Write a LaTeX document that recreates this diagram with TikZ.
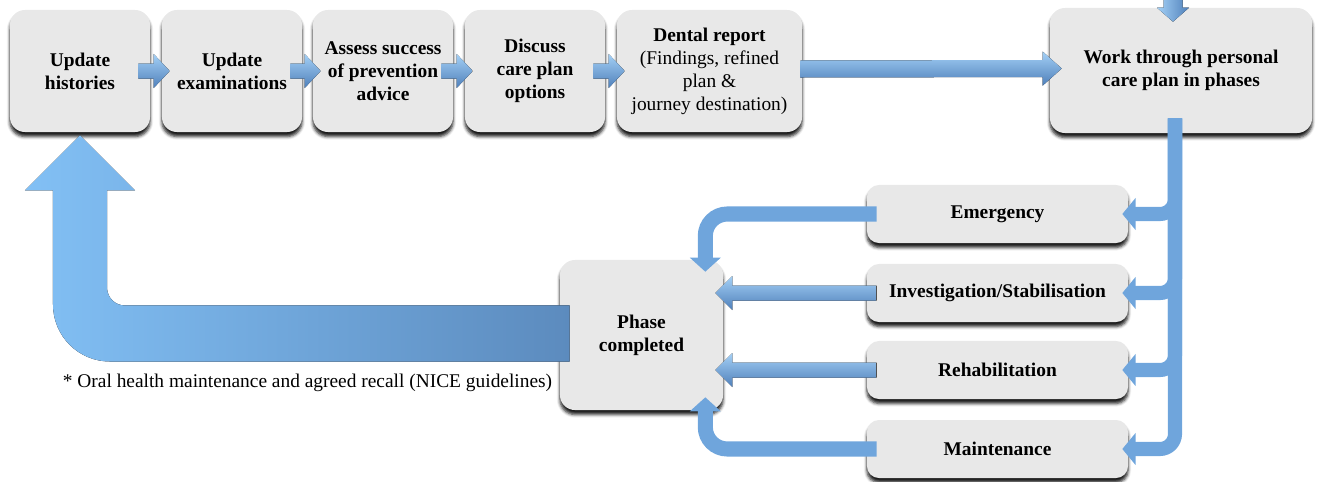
\documentclass[tikz,border=0pt]{standalone}
\usepackage{fontspec}
\setmainfont{LiberationSerif}[Extension=.ttf, UprightFont=*-Regular,
  BoldFont=*-Bold, ItalicFont=*-Italic, BoldItalicFont=*-BoldItalic]
\usetikzlibrary{calc,arrows.meta,shadows.blur}

\definecolor{boxgray}{HTML}{E8E8E8}
\definecolor{arrowlight}{HTML}{A4D0F6}
\definecolor{arrowmid}{HTML}{6FA5DC}
\definecolor{arrowdark}{HTML}{4F80BA}
\definecolor{bigleft}{HTML}{82C0F5}
\definecolor{bigright}{HTML}{5C8BBE}

% one drawing unit in points
\def\pxl{0.71131pt}

% block arrow: [fill options]{tail}{tip}{shaft half width}{head half width}{head length}
\newcommand\blockarrow[6][]{%
  \coordinate (ba-t) at (#2);
  \coordinate (ba-p) at (#3);
  \coordinate (ba-h) at ($(ba-p)!#6*\pxl!(ba-t)$);
  \fill[#1] ($(ba-t)!#4*\pxl!90:(ba-p)$) -- ($(ba-h)!#4*\pxl!90:(ba-p)$)
    -- ($(ba-h)!#5*\pxl!90:(ba-p)$) -- (ba-p)
    -- ($(ba-h)!#5*\pxl!-90:(ba-p)$) -- ($(ba-h)!#4*\pxl!-90:(ba-p)$)
    -- ($(ba-t)!#4*\pxl!-90:(ba-p)$) -- cycle;}

\tikzset{
  basefont/.style={font=\fontsize{13.8}{16.4}\selectfont},
  boxshadow/.style={blur shadow={shadow xshift=0pt, shadow yshift=-3.2pt,
      shadow blur radius=2.2pt, shadow opacity=90}},
  stepbox/.style={font=\fontsize{13.8}{16.4}\selectfont\bfseries,
      fill=boxgray, rounded corners=0.375cm, align=center, inner sep=2pt,
      minimum width=3.5cm, minimum height=3.05cm, boxshadow},
  phasebox/.style={stepbox, minimum width=6.525cm, minimum height=1.45cm,
      rounded corners=0.3cm},
  flowv/.style={top color=arrowlight, bottom color=arrowdark},
  flowh/.style={left color=arrowlight, right color=arrowdark},
  brancharrow/.style={draw=arrowmid, line width=10pt, rounded corners=10.7pt,
      -{Triangle[length=9.5pt, width=22.5pt]}},
  elbowarrow/.style={draw=arrowmid, line width=10.7pt, rounded corners=15.6pt,
      -{Triangle[length=10pt, width=21.5pt]}},
}

\begin{document}
\begin{tikzpicture}[x=0.025cm, y=-0.025cm]
\useasboundingbox (0,0) rectangle (1322,481);

% process steps along the top
\node[stepbox] (b1) at (80,71) {Update\\histories};
\node[stepbox] (b2) at (232,71) {Update\\examinations};
\node[stepbox] (b3) at (383,71) {Assess success\\of prevention\\advice};
\node[stepbox] (b4) at (535,71) {Discuss\\care plan\\options};
\node[stepbox, minimum width=4.625cm] (b5) at (709.5,71)
  {Dental report\\\mdseries(Findings, refined\\\mdseries plan \&\\\mdseries journey destination)};
\node[stepbox, minimum width=6.55cm, minimum height=3.125cm] (b6) at (1181,70.5)
  {Work through personal\\care plan in phases};

% treatment phases
\node[phasebox] (em) at (997.5,214) {Emergency};
\node[phasebox] (iv) at (997.5,293) {Investigation/Stabilisation};
\node[phasebox] (rh) at (997.5,370) {Rehabilitation};
\node[phasebox] (mt) at (997.5,449) {Maintenance};

\node[stepbox, minimum width=4.075cm, minimum height=3.75cm] (pc) at (641.5,335)
  {Phase\\completed};

\node[basefont] (note) at (307.5,383)
  {* Oral health maintenance and agreed recall (NICE guidelines)};

% arrows between the top steps
\blockarrow[flowv]{$(b1.east)+(-12,0)$}{$(b2.west)+(8,0)$}{7.5}{17}{16}
\blockarrow[flowv]{$(b2.east)+(-12,0)$}{$(b3.west)+(8,0)$}{7.5}{17}{16}
\blockarrow[flowv]{$(b3.east)+(-12,0)$}{$(b4.west)+(8,0)$}{7.5}{17}{16}
\blockarrow[flowv]{$(b4.east)+(-12,0)$}{$(b5.west)+(8,0)$}{7.5}{17}{16}
\blockarrow[flowv]{$(b5.east)+(-2,-2)$}{$(b6.west)+(12,-2)$}{8.5}{17}{19}

% incoming arrow from above
\coordinate (feed) at (1173,-2);
\blockarrow[flowh]{feed}{$(feed |- b6.north)+(0,14)$}{9.5}{16}{14}

% bracket from the care plan to each phase
\foreach \ph in {em,iv,rh,mt}
  \draw[brancharrow] ($(b6.south)+(-6,-15)$) |- ($(\ph.east)+(-6,0)$);

% phases into "Phase completed"
\draw[elbowarrow] ($(em.west)+(10,0)$) -| ($(pc.north east)+(-18,12)$);
\blockarrow[flowv]{$(iv.west)+(10,0)$}{$(pc.east |- iv.west)+(-8,0)$}{7.5}{17}{17}
\blockarrow[flowv]{$(rh.west)+(10,0)$}{$(pc.east |- rh.west)+(-8,0)$}{7.5}{17}{17}
\draw[elbowarrow] ($(mt.west)+(10,0)$) -| ($(pc.south east)+(-18,-13)$);

% large return arrow back to the first step
\fill[left color=bigleft, right color=bigright]
  let \p1=($(b1.south)+(0,3)$), \p2=($(pc.west)+(10,-1.5)$) in
  (\x2,{\y2+28*\pxl}) -- ({\x1+45*\pxl},{\y2+28*\pxl})
  .. controls ({\x1+35*\pxl},{\y2+28*\pxl}) and ({\x1+27*\pxl},{\y2+36*\pxl})
  .. ({\x1+27*\pxl},{\y2+46*\pxl})
  -- ({\x1+27*\pxl},{\y1-55*\pxl}) -- ({\x1+55*\pxl},{\y1-55*\pxl})
  -- (\x1,\y1)
  -- ({\x1-55*\pxl},{\y1-55*\pxl}) -- ({\x1-27*\pxl},{\y1-55*\pxl})
  -- ({\x1-27*\pxl},{\y2+29*\pxl})
  .. controls ({\x1-27*\pxl},{\y2-2.5*\pxl}) and ({\x1-1.5*\pxl},{\y2-28*\pxl})
  .. ({\x1+30*\pxl},{\y2-28*\pxl})
  -- (\x2,{\y2-28*\pxl}) -- cycle;
\end{tikzpicture}
\end{document}
